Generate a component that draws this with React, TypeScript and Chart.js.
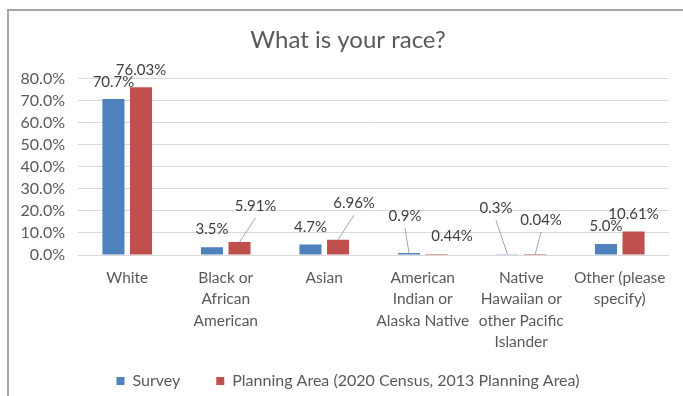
import React, { useEffect, useRef } from "react";
import { Chart, registerables } from "chart.js";

Chart.register(...registerables);

const FONT = "Lato, 'Open Sans', sans-serif";

const categories: string[][] = [
  ["White"],
  ["Black or", "African", "American"],
  ["Asian"],
  ["American", "Indian or", "Alaska Native"],
  ["Native", "Hawaiian or", "other Pacific", "Islander"],
  ["Other (please", "specify)"],
];
const seriesNames = ["Survey", "Planning Area (2020 Census, 2013 Planning Area)"];
const surveyValues = [70.7, 3.5, 4.7, 0.9, 0.3, 5.0];
const planningValues = [76.03, 5.91, 6.96, 0.44, 0.04, 10.61];
const yTickMin = 0;
const yTickMax = 80;
const yTickStep = 10;

// label placement (pixel offsets from the bar top) and whether a leader line is drawn
const surveyLabelOffsets = [[0, -17], [0, -18], [0, -17], [-4, -37], [-11.5, -46], [0, -18]];
const planningLabelOffsets = [[0, -17], [16, -36], [16, -36.5], [15.5, -18], [6, -35], [0, -17]];
const surveyLeader = [false, false, false, true, true, false];
const planningLeader = [false, true, true, false, true, false];
const labelDecimals = [1, 2];

const labelPlugin = {
  id: "barLabels",
  afterDatasetsDraw(chart: any) {
    const ctx = chart.ctx;
    const offsets = [surveyLabelOffsets, planningLabelOffsets];
    const leaders = [surveyLeader, planningLeader];
    ctx.save();
    chart.data.datasets.forEach((ds: any, di: number) => {
      const meta = chart.getDatasetMeta(di);
      meta.data.forEach((el: any, i: number) => {
        const [dx, dy] = offsets[di][i];
        const lx = el.x + dx;
        const ly = el.y + dy;
        if (leaders[di][i]) {
          ctx.strokeStyle = "#a6a6a6";
          ctx.lineWidth = 1;
          ctx.beginPath();
          ctx.moveTo(lx, ly + 12);
          ctx.lineTo(el.x, el.y);
          ctx.stroke();
        }
        ctx.fillStyle = "#404040";
        ctx.font = `15px ${FONT}`;
        ctx.textAlign = "center";
        ctx.textBaseline = "middle";
        ctx.fillText(ds.data[i].toFixed(labelDecimals[di]) + "%", lx, ly);
      });
    });
    ctx.restore();
  },
};

export default function App() {
  const ref = useRef<HTMLCanvasElement>(null);
  useEffect(() => {
    if (!ref.current) return;
    const chart = new Chart(ref.current, {
      type: "bar",
      data: {
        labels: categories,
        datasets: [
          {
            label: seriesNames[0],
            data: surveyValues,
            backgroundColor: "#4F81BD",
            categoryPercentage: 0.56,
            barPercentage: 0.8,
          },
          {
            label: seriesNames[1],
            data: planningValues,
            backgroundColor: "#C0504D",
            categoryPercentage: 0.56,
            barPercentage: 0.8,
          },
        ],
      },
      options: {
        responsive: false,
        animation: false,
        layout: { padding: { left: 0, right: 0, top: 0, bottom: 0 } },
        plugins: {
          title: {
            display: true,
            text: "What is your race?",
            color: "#595959",
            font: { family: FONT, size: 24, weight: "normal" },
            padding: { top: 26, bottom: 23.6 },
          },
          legend: {
            position: "bottom",
            labels: {
              boxWidth: 8,
              boxHeight: 8,
              padding: 36,
              color: "#595959",
              font: { family: FONT, size: 16 },
            },
          },
          tooltip: { enabled: false },
        },
        scales: {
          x: {
            grid: { display: false },
            border: { display: false },
            ticks: {
              color: "#595959",
              font: { family: FONT, size: 15.5, lineHeight: 1.39 },
              padding: 4,
              maxRotation: 0,
              autoSkip: false,
            },
            afterFit: (s: any) => {
              s.height = 82;
              s._computeLabelArea = () => undefined;
            },
          },
          y: {
            min: yTickMin,
            max: yTickMax,
            ticks: {
              stepSize: yTickStep,
              padding: 13,
              autoSkip: false,
              color: "#595959",
              font: { family: FONT, size: 16, lineHeight: 1 },
              callback: (v: any) => Number(v).toFixed(1) + "%",
            },
            grid: { color: "#d9d9d9", drawTicks: false },
            border: { display: false },
            afterFit: (s: any) => {
              s.width = 78;
            },
          },
          yRight: {
            type: "linear",
            position: "right",
            display: true,
            grid: { display: false },
            border: { display: false },
            ticks: { display: false },
            afterFit: (s: any) => {
              s.width = 27;
            },
          },
        },
      },
      plugins: [labelPlugin],
    });
    return () => chart.destroy();
  }, []);

  return (
    <div
      style={{
        position: "fixed",
        left: 0,
        top: 0,
        width: 683,
        height: 396,
        background: "#fff",
        overflow: "hidden",
      }}
    >
      <canvas ref={ref} width={696} height={399} style={{ display: "block", width: 696, height: 399 }} />
      <div
        style={{
          position: "absolute",
          left: 7,
          top: 9,
          width: 700,
          height: 400,
          borderTop: "2px solid #a6a6a6",
          borderLeft: "2px solid #a6a6a6",
          pointerEvents: "none",
        }}
      />
    </div>
  );
}
